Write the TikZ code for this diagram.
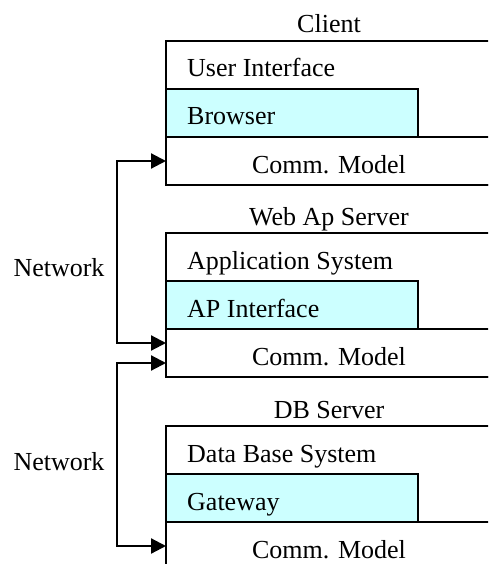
\documentclass[tikz,border=0pt]{standalone}
\usepackage{fontspec}
\setmainfont{Liberation Serif}
\usetikzlibrary{arrows.meta}
\definecolor{cyanfill}{HTML}{CCFFFF}
\begin{document}
\begin{tikzpicture}[x=1pt,y=-1pt,
  every node/.style={font=\fontsize{26}{30}\selectfont},
  outerbox/.style={draw, line width=1.4pt, minimum width=326pt, minimum height=144pt, anchor=north west, inner sep=0pt, outer sep=0pt},
  cyanbox/.style={draw, line width=1.4pt, fill=cyanfill, minimum width=252pt, minimum height=48pt, anchor=north west, inner sep=0pt, outer sep=0pt},
  commbox/.style={draw, line width=1.4pt, minimum width=326pt, minimum height=48pt, anchor=north west, inner sep=0pt, outer sep=0pt},
  lefttext/.style={anchor=base west, inner sep=0pt},
  centertext/.style={anchor=base, inner sep=0pt},
  net/.style={line width=2.2pt, {Triangle[length=15pt,width=15pt]}-{Triangle[length=15pt,width=15pt]}},
]
\useasboundingbox (0,0) rectangle (488,564);
\clip (0,0) rectangle (488,564);

% Client
\node[outerbox] (client) at (166,41) {};
\node[cyanbox] (browser) at (166,89) {};
\node[commbox] (comm1) at (166,137) {};
\node[centertext] (clienttitle) at ([yshift=8pt]client.north) {Client};
\node[lefttext] (ui) at ([xshift=21pt,yshift=-36pt]client.north west) {User Interface};
\node[lefttext] (browsertext) at ([xshift=21pt,yshift=-36pt]browser.north west) {Browser};
\node[centertext] (comm1text) at ([yshift=-36pt]comm1.north) {Comm. Model};

% Web Ap Server
\node[outerbox] (web) at (166,233) {};
\node[cyanbox] (apif) at (166,281) {};
\node[commbox] (comm2) at (166,329) {};
\node[centertext] (webtitle) at ([yshift=8pt]web.north) {Web Ap Server};
\node[lefttext] (appsys) at ([xshift=21pt,yshift=-36pt]web.north west) {Application System};
\node[lefttext] (apiftext) at ([xshift=21pt,yshift=-36pt]apif.north west) {AP Interface};
\node[centertext] (comm2text) at ([yshift=-36pt]comm2.north) {Comm. Model};

% DB Server
\node[outerbox] (db) at (166,426) {};
\node[cyanbox] (gateway) at (166,474) {};
\node[commbox] (comm3) at (166,522) {};
\node[centertext] (dbtitle) at ([yshift=8pt]db.north) {DB Server};
\node[lefttext] (dbsys) at ([xshift=21pt,yshift=-36pt]db.north west) {Data Base System};
\node[lefttext] (gatewaytext) at ([xshift=21pt,yshift=-36pt]gateway.north west) {Gateway};
\node[centertext] (comm3text) at ([yshift=-36pt]comm3.north) {Comm. Model};

% Networks
\draw[net] (comm1.west) -- ++(-49,0) |- ([yshift=10pt]comm2.west);
\draw[net] ([yshift=-10pt]comm2.west) -- ++(-49,0) |- (comm3.west);
\node[centertext] (net1) at (59,276) {Network};
\node[centertext] (net2) at (59,470) {Network};
\end{tikzpicture}
\end{document}
